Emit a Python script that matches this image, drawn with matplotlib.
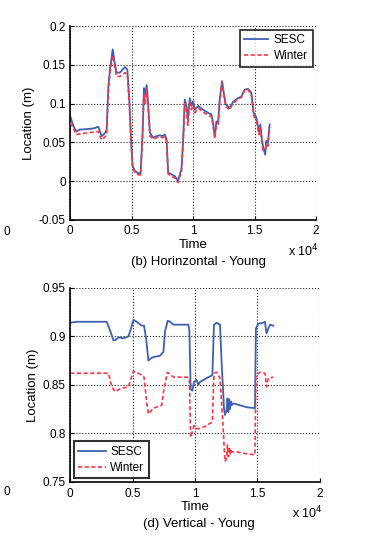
import matplotlib
matplotlib.use("Agg")
import matplotlib.pyplot as plt

plt.rcParams['font.family'] = ['Liberation Sans', 'DejaVu Sans']

# ---------- data: (b) Horizontal ----------
h_time = [0, 270, 490, 810, 1350, 1890, 2300, 2430, 2570, 2840, 2970, 3110, 3240, 3460,
          3650, 3780, 4050, 4270, 4460, 4650, 4810, 4950, 5080, 5270, 5540, 5730, 5890,
          6000, 6110, 6220, 6320, 6490, 6760, 7030, 7300, 7510, 7700, 7840, 7970, 8240,
          8510, 8780, 8920, 9050, 9190, 9320, 9460, 9570, 9730, 9860, 10000, 10140, 10410,
          10810, 11220, 11490, 11620, 11760, 11890, 12030, 12160, 12350, 12490, 12650,
          12970, 13240, 13650, 13920, 14190, 14460, 14730, 14920, 15140, 15350, 15460,
          15590, 15680, 15860, 15950, 16080, 16220]
h_sesc = [0.084, 0.071, 0.064, 0.0665, 0.067, 0.068, 0.070, 0.064, 0.058, 0.062, 0.066,
          0.122, 0.144, 0.170, 0.150, 0.140, 0.140, 0.144, 0.147, 0.144, 0.105, 0.054,
          0.019, 0.013, 0.010, 0.010, 0.062, 0.120, 0.112, 0.124, 0.105, 0.062, 0.056,
          0.058, 0.059, 0.058, 0.060, 0.054, 0.011, 0.0086, 0.0064, 0.000, 0.0086, 0.015,
          0.054, 0.105, 0.097, 0.079, 0.107, 0.097, 0.103, 0.092, 0.097, 0.092, 0.088,
          0.086, 0.075, 0.058, 0.077, 0.075, 0.105, 0.129, 0.114, 0.099, 0.094, 0.102,
          0.107, 0.109, 0.118, 0.119, 0.114, 0.088, 0.082, 0.064, 0.073, 0.054, 0.045,
          0.034, 0.052, 0.049, 0.073]
h_winter = [0.075, 0.068, 0.060, 0.061, 0.062, 0.063, 0.064, 0.058, 0.053, 0.057, 0.062,
            0.118, 0.140, 0.162, 0.145, 0.135, 0.135, 0.137, 0.140, 0.137, 0.100, 0.052,
            0.017, 0.011, 0.008, 0.008, 0.058, 0.112, 0.100, 0.118, 0.100, 0.058, 0.054,
            0.056, 0.057, 0.056, 0.057, 0.052, 0.009, 0.006, 0.004, -0.002, 0.006, 0.012,
            0.050, 0.100, 0.092, 0.072, 0.102, 0.092, 0.098, 0.088, 0.094, 0.089, 0.085,
            0.083, 0.072, 0.055, 0.072, 0.072, 0.102, 0.127, 0.112, 0.096, 0.092, 0.100,
            0.106, 0.108, 0.117, 0.118, 0.112, 0.085, 0.078, 0.060, 0.069, 0.050, 0.040,
            0.040, 0.048, 0.045, 0.070]

# ---------- data: (d) Vertical ----------
v_time_s = [0, 530, 2400, 2930, 3200, 3470, 3600, 3870, 4270, 4670, 4880, 5070, 5330,
            5730, 5920, 6080, 6270, 6530, 6800, 7200, 7470, 7600, 7810, 8000, 8270, 8800,
            9470, 9550, 9650, 9790, 9920, 10130, 10270, 10400, 10930, 11390, 11520, 11730,
            12000, 12130, 12320, 12400, 12530, 12600, 12670, 12730, 12800, 12870, 12930,
            13070, 13600, 14130, 14800, 14880, 15070, 15470, 15600, 15730, 15870, 16000,
            16270]
v_sesc = [0.914, 0.915, 0.915, 0.915, 0.906, 0.896, 0.896, 0.899, 0.898, 0.900, 0.908,
          0.917, 0.915, 0.911, 0.911, 0.898, 0.875, 0.878, 0.879, 0.880, 0.884, 0.905,
          0.916, 0.915, 0.912, 0.912, 0.912, 0.906, 0.846, 0.844, 0.853, 0.855, 0.850,
          0.853, 0.857, 0.860, 0.912, 0.914, 0.912, 0.874, 0.826, 0.819, 0.824, 0.836,
          0.822, 0.835, 0.825, 0.833, 0.829, 0.831, 0.829, 0.827, 0.826, 0.908, 0.913,
          0.914, 0.915, 0.903, 0.908, 0.912, 0.911]
v_time_w = [0, 2400, 3070, 3330, 3600, 4000, 4670, 5070, 5600, 5920, 6130, 6270, 6670,
            7330, 7520, 7790, 8270, 9330, 9550, 9650, 9790, 9920, 10130, 10400, 10930,
            11390, 11520, 11730, 12000, 12210, 12400, 12530, 12600, 12680, 12750, 12820,
            12880, 12930, 13330, 14130, 14800, 14880, 15200, 15600, 15730, 15870, 16270]
v_winter = [0.862, 0.862, 0.862, 0.848, 0.843, 0.846, 0.848, 0.864, 0.861, 0.858, 0.832,
            0.820, 0.826, 0.829, 0.846, 0.863, 0.858, 0.858, 0.857, 0.796, 0.802, 0.808,
            0.805, 0.805, 0.808, 0.812, 0.862, 0.863, 0.857, 0.815, 0.771, 0.774, 0.788,
            0.776, 0.786, 0.778, 0.784, 0.781, 0.781, 0.779, 0.778, 0.860, 0.863, 0.862,
            0.848, 0.857, 0.858]

blue = '#3d5fb4'
red = '#ff3344'
dash = (2.5, 1.5)

fig = plt.figure(figsize=(3.75, 5.44), dpi=100)

def style(ax, ylim, yticks, ylabels):
    ax.set_xlim(0, 20000)
    ax.set_ylim(*ylim)
    ax.set_xticks([0, 5000, 10000, 15000, 20000])
    ax.set_xticklabels(['0', '0.5', '1', '1.5', '2'])
    ax.set_yticks(yticks)
    ax.set_yticklabels(ylabels)
    ax.grid(True, color='#222222', linestyle=':', linewidth=0.8)
    ax.set_axisbelow(True)
    for s in ['top', 'right']:
        ax.spines[s].set_visible(False)
    ax.spines['left'].set_linewidth(1.2)
    ax.spines['bottom'].set_linewidth(1.2)
    ax.tick_params(axis='both', labelsize=8.5, length=3, direction='in')
    ax.tick_params(axis='x', pad=4)
    ax.tick_params(axis='y', pad=3)
    ax.set_xlabel('Time', fontsize=9.5, labelpad=1)
    ax.set_ylabel('Location (m)', fontsize=9.5, labelpad=3)

ax1 = fig.add_axes([0.187, 0.596, 0.656, 0.356])
ax1.plot(h_time, h_winter, color=red, linestyle='--', dashes=dash, linewidth=1.2,
         label='Winter', zorder=3)
ax1.plot(h_time, h_sesc, color=blue, linestyle='-', linewidth=1.3, label='SESC', zorder=2)
style(ax1, (-0.05, 0.2), [-0.05, 0, 0.05, 0.1, 0.15, 0.2],
      ['-0.05', '0', '0.05', '0.1', '0.15', '0.2'])
h, l = ax1.get_legend_handles_labels()
leg1 = ax1.legend(h[::-1], l[::-1], loc='upper right', fontsize=8.5, frameon=True,
                  fancybox=False, edgecolor='black', borderaxespad=0.3,
                  handlelength=2.0, handletextpad=0.5, borderpad=0.4, labelspacing=0.3)
leg1.get_frame().set_linewidth(1.3)
fig.text(0.768, 0.538, r'x 10$^{4}$', fontsize=9, ha='left', va='center')
fig.text(0.53, 0.518, '(b) Horinzontal - Young', fontsize=9.5, ha='center', va='center')
fig.text(0.01, 0.573, '0', fontsize=8.5, ha='left', va='center')

ax2 = fig.add_axes([0.187, 0.114, 0.666, 0.357])
ax2.plot(v_time_s, v_sesc, color=blue, linestyle='-', linewidth=1.3, label='SESC')
ax2.plot(v_time_w, v_winter, color=red, linestyle='--', dashes=dash, linewidth=1.2,
         label='Winter')
style(ax2, (0.75, 0.95), [0.75, 0.8, 0.85, 0.9, 0.95],
      ['0.75', '0.8', '0.85', '0.9', '0.95'])
leg2 = ax2.legend(loc='lower left', fontsize=8.5, frameon=True, fancybox=False,
                  edgecolor='black', borderaxespad=0.3, handlelength=2.3,
                  handletextpad=0.4, borderpad=0.4, labelspacing=0.3)
leg2.get_frame().set_linewidth(1.5)
fig.text(0.778, 0.057, r'x 10$^{4}$', fontsize=9, ha='left', va='center')
fig.text(0.53, 0.037, '(d) Vertical - Young', fontsize=9.5, ha='center', va='center')
fig.text(0.01, 0.095, '0', fontsize=8.5, ha='left', va='center')

fig.savefig('out.png', dpi=100)
